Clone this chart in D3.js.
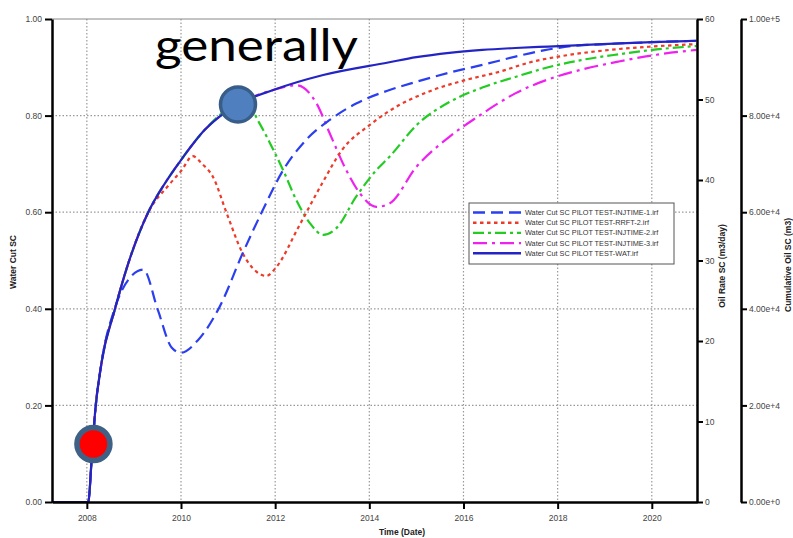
<!DOCTYPE html>
<html><head><meta charset="utf-8">
<script src="https://cdn.jsdelivr.net/npm/d3@7"></script>
<style>body{margin:0;background:#fff;} svg{display:block;}</style>
</head><body>
<svg id="c" width="793" height="538"></svg>
<script>
// ---------- data ----------
const seriesNames = [
  "Water Cut SC PILOT TEST-INJTIME-1.irf",
  "Water Cut SC PILOT TEST-RRFT-2.irf",
  "Water Cut SC PILOT TEST-INJTIME-2.irf",
  "Water Cut SC PILOT TEST-INJTIME-3.irf",
  "Water Cut SC PILOT TEST-WAT.irf"
];
const watYears  = [2007.26,2008.0,2008.03,2008.1,2008.17,2008.31,2008.59,2008.88,2009.3,2009.66,2010.0,2010.5,2011.2,2011.96,2013.02,2014.4,2015.0,2015.7,2016.4,2017.1,2017.8,2018.5,2019.2,2020.0,2020.95];
const watValues = [0,0,0,0.085,0.18,0.287,0.397,0.494,0.599,0.66,0.708,0.77,0.823,0.853,0.884,0.910,0.921,0.930,0.936,0.940,0.943,0.946,0.949,0.952,0.955];

const inj1Years  = [2007.26,2008.0,2008.03,2008.1,2008.17,2008.31,2008.59,2008.88,2009.2,2009.51,2009.8,2010.0,2010.36,2010.82,2011.31,2011.74,2012.17,2012.66,2013.16,2013.72,2014.43,2015.0,2015.7,2016.4,2017.1,2017.7,2018.3,2019.0,2020.0,2020.95];
const inj1Values = [0,0,0,0.085,0.18,0.287,0.40,0.46,0.481,0.397,0.32,0.309,0.335,0.404,0.515,0.605,0.687,0.75,0.791,0.825,0.853,0.870,0.889,0.905,0.922,0.935,0.944,0.948,0.952,0.955];

const rrftYears  = [2007.26,2008.0,2008.03,2008.1,2008.17,2008.31,2008.59,2008.88,2009.3,2009.73,2010.0,2010.25,2010.45,2010.68,2010.97,2011.31,2011.6,2011.81,2012.03,2012.5,2013.0,2013.42,2014.0,2014.43,2015.35,2016.06,2016.77,2017.4,2018.2,2019.0,2020.0,2020.95];
const rrftValues = [0,0,0,0.085,0.18,0.287,0.397,0.494,0.599,0.655,0.685,0.716,0.70,0.673,0.598,0.515,0.477,0.468,0.487,0.57,0.66,0.729,0.78,0.81,0.853,0.874,0.891,0.910,0.925,0.935,0.943,0.948];

const inj2Years  = [2007.26,2008.0,2008.03,2008.1,2008.17,2008.31,2008.59,2008.88,2009.3,2009.66,2010.0,2010.5,2011.2,2011.42,2011.65,2011.89,2012.17,2012.45,2012.74,2013.02,2013.3,2013.72,2014.15,2014.43,2015.0,2015.7,2016.4,2017.1,2017.8,2018.5,2019.3,2020.1,2020.95];
const inj2Values = [0,0,0,0.085,0.18,0.287,0.397,0.494,0.599,0.66,0.708,0.77,0.821,0.822,0.787,0.743,0.687,0.625,0.577,0.553,0.567,0.632,0.687,0.715,0.78,0.828,0.858,0.88,0.90,0.915,0.927,0.937,0.944];

const inj3Years  = [2007.26,2008.0,2008.03,2008.1,2008.17,2008.31,2008.59,2008.88,2009.3,2009.66,2010.0,2010.5,2011.2,2011.96,2012.45,2012.88,2013.16,2013.51,2013.8,2014.15,2014.43,2015.0,2015.7,2016.4,2017.1,2017.8,2018.5,2019.3,2020.1,2020.95];
const inj3Values = [0,0,0,0.085,0.18,0.287,0.397,0.494,0.599,0.66,0.708,0.77,0.823,0.853,0.863,0.825,0.763,0.687,0.639,0.611,0.618,0.694,0.756,0.804,0.846,0.875,0.895,0.912,0.926,0.936];

const xTicks = [2008,2010,2012,2014,2016,2018,2020];
const wcTicks = [0,0.2,0.4,0.6,0.8,1.0];
const oilTicks = [0,10,20,30,40,50,60];
const cumTicks = [0,20000,40000,60000,80000,100000];
const markers = [{year:2008.14, wc:0.12, kind:"red"},{year:2011.21, wc:0.823, kind:"blue"}];

// ---------- layout ----------
const svg = d3.select("#c");
const L = 52, R = 697, T = 19, B = 502;
const x = d3.scaleLinear().domain([2007.26, 2020.96]).range([L, R]);
const y = d3.scaleLinear().domain([0, 1]).range([B, T]);
const yOil = d3.scaleLinear().domain([0, 60]).range([B, T]);
const yCum = d3.scaleLinear().domain([0, 100000]).range([B, T]);
const tickFont = "'Liberation Sans', Arial, sans-serif";

// grid
const grid = svg.append("g");
grid.selectAll("line.v").data(xTicks).join("line")
  .attr("x1", d => x(d)).attr("x2", d => x(d)).attr("y1", T).attr("y2", B)
  .attr("stroke", "#999").attr("stroke-width", 1.2).attr("stroke-dasharray", "1.5,2");
grid.selectAll("line.h").data(wcTicks.filter(d => d > 0 && d < 1)).join("line")
  .attr("x1", L).attr("x2", R).attr("y1", d => y(d)).attr("y2", d => y(d))
  .attr("stroke", "#999").attr("stroke-width", 1.2).attr("stroke-dasharray", "1.5,2");
grid.append("line").attr("x1", L).attr("x2", R).attr("y1", T).attr("y2", T)
  .attr("stroke", "#888").attr("stroke-width", 1);

// series
const line = d3.line().x(d => x(d[0])).y(d => y(d[1])).curve(d3.curveMonotoneX);
const zip = (a, b) => a.map((v, i) => [v, b[i]]);
const series = [
  {name: seriesNames[0], pts: zip(inj1Years, inj1Values), color: "#2b3ef0", dash: "12,6", w: 2.2},
  {name: seriesNames[1], pts: zip(rrftYears, rrftValues), color: "#ee3a28", dash: "3.5,3.5", w: 2.2},
  {name: seriesNames[2], pts: zip(inj2Years, inj2Values), color: "#22cc22", dash: "11,4,3,4", w: 2.2},
  {name: seriesNames[3], pts: zip(inj3Years, inj3Values), color: "#ee22ee", dash: "14,5,3,5", w: 2.2},
  {name: seriesNames[4], pts: zip(watYears, watValues), color: "#2424c4", dash: null, w: 2.2}
];
const drawOrder = [3, 2, 1, 0, 4];
drawOrder.forEach(i => {
  const s = series[i];
  svg.append("path").attr("d", line(s.pts)).attr("fill", "none")
    .attr("stroke", s.color).attr("stroke-width", s.w)
    .attr("stroke-dasharray", s.dash);
});

// axes
function styleAxis(g) {
  g.selectAll(".domain").attr("stroke", "#000").attr("stroke-width", 2.5);
  g.selectAll(".tick line").attr("stroke", "#000").attr("stroke-width", 2);
  g.selectAll(".tick text").attr("fill", "#444").style("font-family", tickFont).style("font-size", "8.5px");
}
svg.append("g").attr("transform", `translate(${L},0)`)
  .call(d3.axisLeft(y).tickValues(wcTicks).tickFormat(d3.format(".2f")).tickSize(7).tickSizeOuter(0).tickPadding(3))
  .call(styleAxis);
svg.append("g").attr("transform", `translate(0,${B})`)
  .call(d3.axisBottom(x).tickValues(xTicks).tickFormat(d3.format("d")).tickSize(7).tickSizeOuter(0).tickPadding(6))
  .call(styleAxis);
svg.append("g").attr("transform", `translate(${R},0)`)
  .call(d3.axisRight(yOil).tickValues(oilTicks).tickSize(6).tickSizeOuter(0).tickPadding(2))
  .call(styleAxis);
svg.append("g").attr("transform", `translate(741,0)`)
  .call(d3.axisRight(yCum).tickValues(cumTicks).tickFormat(d3.format(".2e")).tickSize(6).tickSizeOuter(0).tickPadding(2))
  .call(styleAxis);

// axis titles
const titleStyle = t => t.attr("fill", "#222").style("font-family", tickFont).style("font-size", "8.5px").style("font-weight", "bold");
svg.append("text").attr("transform", "translate(16,262) rotate(-90)").attr("text-anchor", "middle").text("Water Cut SC").call(titleStyle);
svg.append("text").attr("transform", "translate(725,266) rotate(-90)").attr("text-anchor", "middle").text("Oil Rate SC (m3/day)").call(titleStyle);
svg.append("text").attr("transform", "translate(790.5,265) rotate(-90)").attr("text-anchor", "middle").text("Cumulative Oil SC (m3)").call(titleStyle);
svg.append("text").attr("x", 402).attr("y", 535).attr("text-anchor", "middle").text("Time (Date)").call(titleStyle);

// legend
const lg = svg.append("g");
lg.append("rect").attr("x", 469).attr("y", 203).attr("width", 205).attr("height", 61)
  .attr("fill", "#fff").attr("stroke", "#555").attr("stroke-width", 1);
series.forEach((s, i) => {
  const yy = 212.5 + i * 10.2;
  lg.append("line").attr("x1", 473).attr("x2", 521).attr("y1", yy).attr("y2", yy)
    .attr("stroke", s.color).attr("stroke-width", 2.4).attr("stroke-dasharray", s.dash);
  lg.append("text").attr("x", 525).attr("y", yy + 2.5).text(s.name)
    .attr("fill", "#333").style("font-family", tickFont).style("font-size", "7.3px");
});

// annotation
svg.append("text").attr("x", 155).attr("y", 61).text("generally")
  .attr("fill", "#000").style("font-family", "Lato, 'Open Sans', sans-serif").style("font-size", "44px")
  .attr("textLength", 203).attr("lengthAdjust", "spacingAndGlyphs");

svg.selectAll("circle.mk").data(markers).join("circle")
  .attr("cx", d => x(d.year)).attr("cy", d => y(d.wc))
  .attr("r", d => d.kind === "red" ? 16.5 : 17.5)
  .attr("fill", d => d.kind === "red" ? "#ff0000" : "#4f7fbf")
  .attr("stroke", d => d.kind === "red" ? "#3e6185" : "#375d88")
  .attr("stroke-width", d => d.kind === "red" ? 5.5 : 3.5);
</script>
</body></html>
